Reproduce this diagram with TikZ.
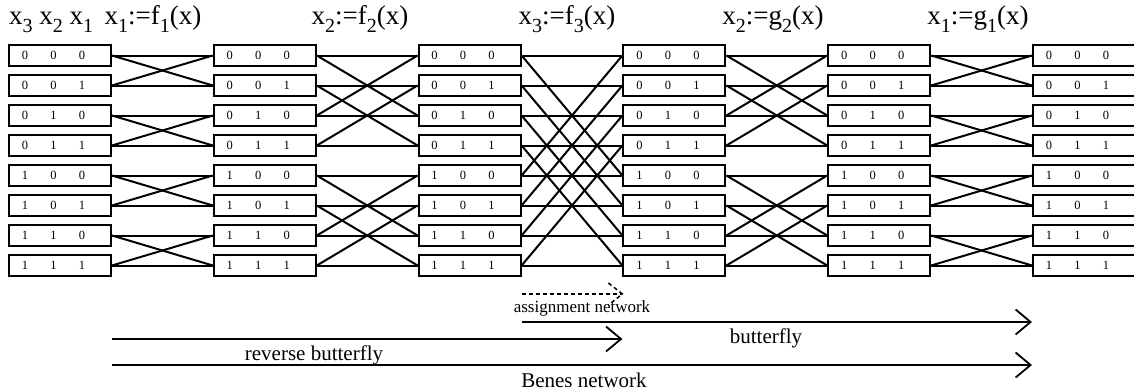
\documentclass[tikz,border=0pt]{standalone}
\usepackage{fontspec}
\setmainfont{Liberation Serif}
\usetikzlibrary{arrows.meta}
\newcommand{\xsub}[1]{\raisebox{-8.5pt}{\fontsize{20}{20}\selectfont #1}}
\begin{document}
\begin{tikzpicture}[x=1pt,y=-1pt,
  cell/.style={draw, line width=2pt, minimum width=102pt, minimum height=21pt, inner sep=0pt, font=\fontsize{12.5}{12.5}\selectfont},
  wire/.style={line width=2pt},
  toplab/.style={anchor=base, font=\fontsize{27}{27}\selectfont, inner sep=0pt},
  botlab/.style={font=\fontsize{21}{21}\selectfont, inner sep=0pt},
  arr/.style={line width=1.8pt, -{Straight Barb[length=15pt,width=25pt]}},
  darr/.style={line width=1.5pt, dash pattern=on 4pt off 3pt}
]
\useasboundingbox (0,0) rectangle (1134,391);

% boxes
\foreach \k in {0,...,5}{
  \foreach \i/\a/\b/\c in {0/0/0/0,1/0/0/1,2/0/1/0,3/0/1/1,4/1/0/0,5/1/0/1,6/1/1/0,7/1/1/1}{
    \node[cell] (c\k-\i) at ({60+204.8*\k},{55.5+30*\i})
      {\makebox[28.5pt]{\a}\makebox[28.5pt]{\b}\makebox[28.5pt]{\c}\hspace*{13pt}};
  }
}

% wiring
\foreach \s/\m in {0/1,1/2,2/4,3/2,4/1}{
  \pgfmathtruncatemacro\t{\s+1}
  \foreach \i in {0,...,7}{
    \pgfmathtruncatemacro\j{\i+\m*(1-2*mod(floor(\i/\m),2))}
    \draw[wire] (c\s-\i.east) -- (c\t-\i.west);
    \draw[wire] (c\s-\i.east) -- (c\t-\j.west);
  }
}

% top labels
\node[toplab, anchor=base west] (lx) at (9,24) {x\xsub{3} x\xsub{2} x\xsub{1}};
\node[toplab] (l1) at (153,24) {x\xsub{1}:=f\xsub{1}(x)};
\node[toplab] (l2) at (360,24) {x\xsub{2}:=f\xsub{2}(x)};
\node[toplab] (l3) at (567,24) {x\xsub{3}:=f\xsub{3}(x)};
\node[toplab] (l4) at (773,24) {x\xsub{2}:=g\xsub{2}(x)};
\node[toplab] (l5) at (978,24) {x\xsub{1}:=g\xsub{1}(x)};

% bottom arrows
\coordinate (ya) at (0,294);
\coordinate (yb) at (0,322);
\coordinate (yc) at (0,339);
\coordinate (yd) at (0,365);
\coordinate (as) at (c2-7.east |- ya);
\coordinate (ae) at (c3-7.west |- ya);
\draw[darr] (as) -- (ae);
\draw[darr] (ae) ++(-14,-11) -- (ae) -- ++(-14,11);
\draw[arr] (c2-7.east |- yb) -- (c5-7.west |- yb);
\draw[arr] (c0-7.east |- yc) -- (c3-7.west |- yc);
\draw[arr] (c0-7.east |- yd) -- (c5-7.west |- yd);

\node[botlab, font=\fontsize{17}{17}\selectfont] (an) at (582,308) {assignment network};
\node[botlab] (bl) at (766,338) {butterfly};
\node[botlab] (rl) at (314,355) {reverse butterfly};
\node[botlab] (nl) at (584,380) {Benes network};
\end{tikzpicture}
\end{document}
